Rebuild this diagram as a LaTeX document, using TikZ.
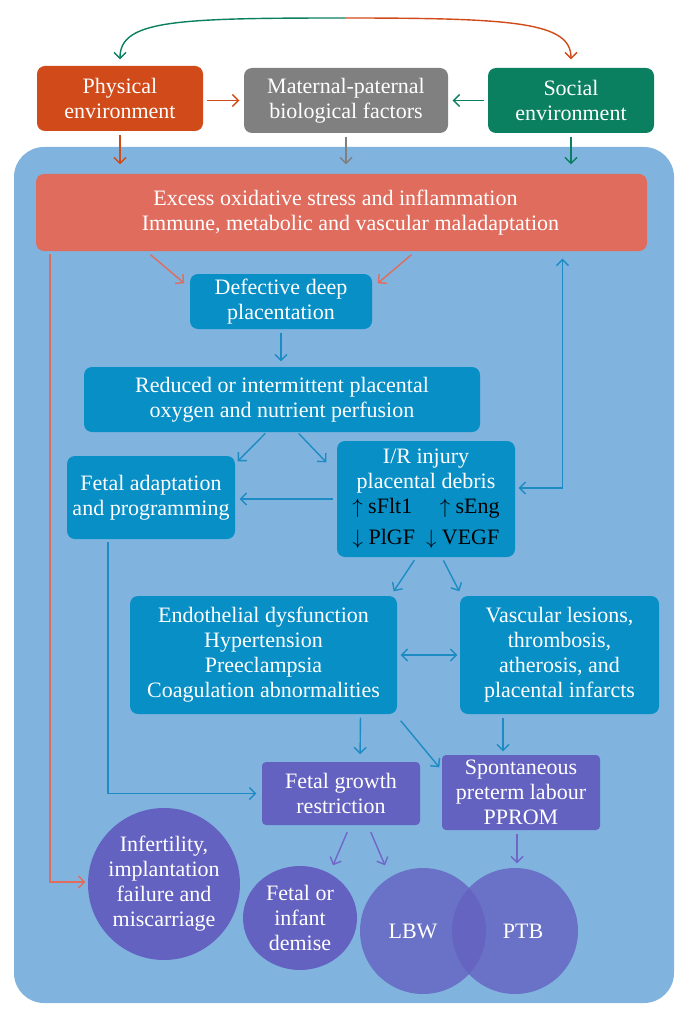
\documentclass[tikz,border=0pt]{standalone}
\usepackage{fontspec}
\setmainfont{Liberation Serif}
\usetikzlibrary{arrows.meta,shapes.geometric}

\definecolor{physc}{RGB}{209,74,25}
\definecolor{bioc}{RGB}{128,128,128}
\definecolor{socc}{RGB}{10,128,96}
\definecolor{oxc}{RGB}{224,108,94}
\definecolor{bgc}{RGB}{128,180,223}
\definecolor{boxc}{RGB}{8,143,198}
\definecolor{linec}{RGB}{30,140,196}
\definecolor{purc}{RGB}{100,98,192}
\definecolor{plinec}{RGB}{112,102,200}

\begin{document}
\begin{tikzpicture}[x=1pt,y=-1pt,>={Straight Barb[length=6pt,width=12pt]},line width=1.4pt,
	box/.style={rectangle,rounded corners=8pt,inner sep=0pt,align=center,text=white,font=\fontsize{22}{25}\selectfont},
	blob/.style={circle,inner sep=0pt,align=center,text=white,font=\fontsize{22}{25}\selectfont}]
					\useasboundingbox (0,0) rectangle (688,1016);
					\fill[bgc,rounded corners=30pt] (14,147) rectangle (674,1003);
					\coordinate (arc_top) at (345,18);
					\node[box,fill=physc,minimum width=166pt,minimum height=65pt] (env_p) at (120,98.5) {Physical\\environment};
					\node[box,fill=bioc,minimum width=204pt,minimum height=65pt] (bio) at (346,100.5) {Maternal-paternal\\biological factors};
					\node[box,fill=socc,minimum width=166pt,minimum height=65pt] (env_s) at (571,100.5) {Social\\environment};
					\node[box,fill=oxc,minimum width=611pt,minimum height=77pt] (ox) at (341.5,212.5) {Excess oxidative stress and inflammation\hspace*{12pt}\\\hspace*{18pt}Immune, metabolic and vascular maladaptation};
					\node[box,fill=boxc,minimum width=182pt,minimum height=55pt] (ddp) at (281,301.5) {Defective deep\\placentation};
					\node[box,fill=boxc,minimum width=396pt,minimum height=65pt] (perf) at (282,399.5) {Reduced or intermittent placental\\oxygen and nutrient perfusion};
					\node[box,fill=boxc,minimum width=168pt,minimum height=83pt] (fap) at (151,497.5) {Fetal adaptation\\and programming};
					\node[box,fill=boxc,minimum width=178pt,minimum height=116pt] (ir) at (426,499) {I/R injury\\placental debris\\[0pt]\color{black}$\uparrow$ sFlt1\quad\ $\uparrow$ sEng\\[6pt]\color{black}$\downarrow$ PlGF\enspace$\downarrow$ VEGF};
					\node[box,fill=boxc,minimum width=267pt,minimum height=118pt] (endo) at (263.5,655) {Endothelial dysfunction\\Hypertension\\Preeclampsia\\Coagulation abnormalities};
					\node[box,fill=boxc,minimum width=199pt,minimum height=118pt] (vasc) at (559.5,655) {Vascular lesions,\\thrombosis,\\atherosis, and\\placental infarcts};
					\node[box,fill=purc,rounded corners=4pt,minimum width=158pt,minimum height=63pt] (fgr) at (341,793.5) {Fetal growth\\restriction};
					\node[box,fill=purc,rounded corners=4pt,minimum width=158pt,minimum height=75pt] (sptl) at (521,792.5) {Spontaneous\\preterm labour\\PPROM};
					\node[blob,fill=purc,minimum size=152pt] (inf) at (164,884) {Infertility,\\implantation\\failure and\\miscarriage};
					\node[blob,ellipse,fill=purc,minimum width=114pt,minimum height=104pt] (fid) at (300,918) {Fetal or\\infant\\demise};
					\node[blob,fill=purc,fill opacity=0.8,text opacity=1,minimum size=126pt] (lbw) at (423,931) {LBW\hspace*{20pt}};
					\node[blob,fill=purc,fill opacity=0.8,text opacity=1,minimum size=126pt] (ptb) at (515,931) {\hspace*{16pt}PTB};
					\draw[->,socc,shorten >=6pt] (arc_top) .. controls +(-170,0) and +(0,-45) .. (env_p.north);
					\draw[->,physc,shorten >=8pt] (arc_top) .. controls +(170,0) and +(0,-45) .. (env_s.north);
					\path[->,shorten >=4pt,shorten <=3pt]
					(env_p.east |- bio) edge[physc] (bio.west)
					(env_s.west |- bio) edge[socc] (bio.east)
					(env_p.south) edge[physc,shorten >=9pt] (env_p.south |- ox.north)
					(bio.south) edge[bioc,shorten >=9pt] (bio.south |- ox.north)
					(env_s.south) edge[socc,shorten >=9pt] (env_s.south |- ox.north)
					([xshift=-191pt,yshift=-3pt]ox.south) edge[oxc,shorten >=0pt,shorten <=0pt] ([xshift=-5pt,yshift=-10pt]ddp.north west)
					([xshift=70pt,yshift=-3pt]ox.south) edge[oxc,shorten >=0pt,shorten <=0pt] ([xshift=5pt,yshift=-10pt]ddp.north east)
					(ddp.south) edge[linec,shorten >=5pt] (ddp.south |- perf.north)
					([xshift=-16pt]perf.south) edge[linec,shorten >=0pt,shorten <=1pt] ([xshift=2pt,yshift=-6pt]fap.north east)
					([xshift=16pt]perf.south) edge[linec,shorten >=0pt,shorten <=1pt] ([xshift=-10pt,yshift=-22pt]ir.north west)
					(ir.west) edge[linec] (ir.west -| fap.east)
					([xshift=-10pt]ir.south) edge[linec,shorten >=0pt] ([xshift=-4pt,yshift=4pt]endo.north east)
					([xshift=16pt]ir.south) edge[linec,shorten >=0pt] ([yshift=4pt]vasc.north west)
					(endo.east) edge[linec,<->,shorten <=3pt,shorten >=2pt] (vasc.west)
					([xshift=97pt]endo.south) edge[linec,shorten >=7pt] ([xshift=19pt]fgr.north)
					([xshift=3pt,yshift=-6pt]endo.south east) edge[linec,shorten >=0pt,shorten <=0pt] ([xshift=-2pt,yshift=-13pt]sptl.north west)
					([xshift=-56.5pt]vasc.south) edge[linec,shorten >=3pt] ([xshift=-18pt]sptl.north)
					([xshift=9pt]fgr.south) edge[plinec,shorten >=0pt,shorten <=7pt] ([xshift=33pt]fid.north)
					([xshift=27pt]fgr.south) edge[plinec,shorten >=0pt,shorten <=7pt] ([xshift=-38pt,yshift=2pt]lbw.north)
					([xshift=-4pt]sptl.south) edge[plinec,shorten >=0pt] ([xshift=2pt,yshift=4pt]ptb.north)
					;
					\draw[<->,linec,shorten <=7pt,shorten >=3pt] ([xshift=221pt]ox.south) |- ([yshift=11pt]ir.east);
					\draw[->,linec,shorten <=2pt,shorten >=5pt] ([xshift=-43pt]fap.south) |- (fgr.west);
					\draw[->,oxc,shorten <=2pt,shorten >=2pt] ([xshift=-291.5pt]ox.south) |- ([yshift=2pt]inf.west);
				\end{tikzpicture}
\end{document}
